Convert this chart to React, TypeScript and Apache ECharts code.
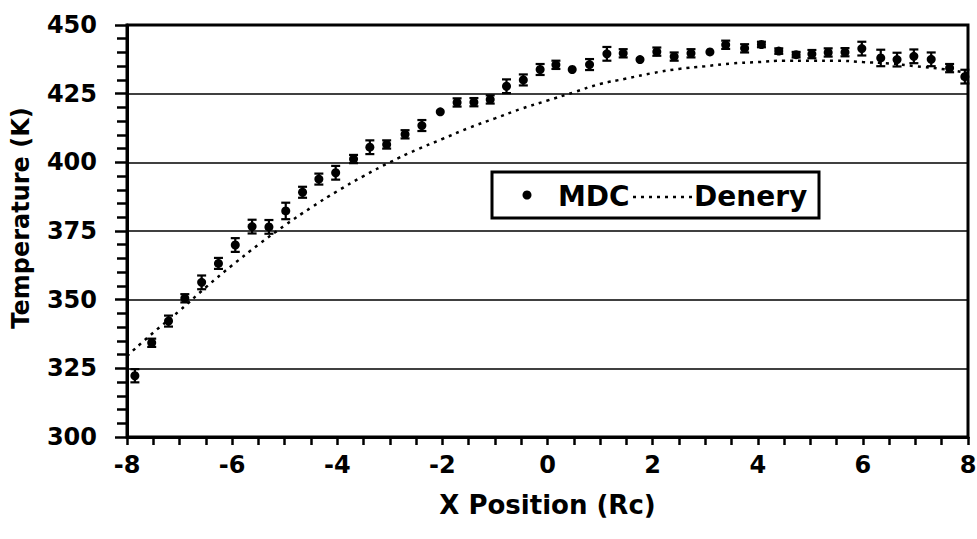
import React, { useEffect, useRef } from "react";
import * as echarts from "echarts";

// MDC measured temperatures (K) vs X position (Rc)
const mdcX = [-7.85, -7.53, -7.21, -6.9, -6.58, -6.26, -5.94, -5.62, -5.3, -4.98, -4.66, -4.35, -4.03, -3.69, -3.38, -3.06, -2.71, -2.39, -2.04, -1.72, -1.4, -1.09, -0.78, -0.46, -0.14, 0.16, 0.47, 0.8, 1.13, 1.44, 1.76, 2.08, 2.41, 2.73, 3.09, 3.39, 3.75, 4.07, 4.4, 4.73, 5.03, 5.34, 5.66, 5.98, 6.34, 6.65, 6.97, 7.3, 7.65, 7.94];
const mdcT = [322.3, 334.3, 342.2, 350.5, 356.3, 363.2, 369.9, 376.6, 376.5, 382.3, 389.1, 393.9, 396.2, 401.2, 405.5, 406.5, 410.2, 413.4, 418.4, 421.8, 421.9, 422.9, 427.7, 430, 433.8, 435.5, 433.8, 435.6, 439.5, 439.7, 437.4, 440.3, 438.5, 439.7, 440.2, 442.8, 441.5, 442.9, 440.5, 439.2, 439.4, 440, 440.1, 441.4, 438, 437.4, 438.6, 437.5, 434.3, 431.2];
const mdcErr = [2.4, 1.5, 2, 1.5, 2.5, 2, 2.5, 2.5, 2.5, 3, 2, 2, 2.5, 1.5, 2.5, 1.5, 1.5, 2, 0, 1.5, 1.5, 1.5, 2.5, 2, 2, 1.5, 0, 2, 2.5, 1.5, 0, 1.5, 1.5, 1.5, 0, 1.5, 1.5, 1, 1, 1, 1.5, 1.5, 1.5, 2.5, 3, 2.5, 2.5, 2.5, 1.5, 2.5];

// Denery reference curve
const deneryX = [-8, -7.5, -7, -6.5, -6, -5.5, -5, -4.5, -4, -3.5, -3, -2.5, -2, -1.5, -1, -0.5, 0, 0.5, 1, 1.5, 2, 2.5, 3, 3.5, 4, 4.5, 5, 5.5, 6, 6.5, 7, 7.5, 8];
const deneryT = [329.5, 338, 346, 354.5, 362.5, 370, 377, 383.5, 389.5, 395, 400, 404.5, 408.5, 412.5, 416, 419.5, 422.5, 425.5, 428.5, 430.5, 432.5, 434, 435, 436, 436.5, 437, 437, 437, 436.5, 436, 435, 434, 432.5];

const yTicks = [300, 325, 350, 375, 400, 425, 450];
const xTicks = [-8, -6, -4, -2, 0, 2, 4, 6, 8];
const legendNames = ["MDC", "Denery"];

const FONT = "DejaVu Sans";

export default function App() {
  const ref = useRef<HTMLDivElement>(null);
  useEffect(() => {
    document.body.style.margin = "0";
    const chart = echarts.init(ref.current!, null, { renderer: "svg" });
    const errData = mdcX.map((x, i) => [x, mdcT[i], mdcErr[i]]);
    const legendFont = `bold 28px "${FONT}"`;
    chart.setOption({
      animation: false,
      backgroundColor: "#fff",
      grid: {
        left: 127,
        right: 9,
        top: 25,
        bottom: 102,
        containLabel: false,
        outerBoundsMode: "none",
        show: true,
        borderColor: "#000",
        borderWidth: 3,
        backgroundColor: "transparent",
      },
      graphic: [
        {
          type: "group",
          z: 100,
          children: [
            { type: "rect", shape: { x: 492, y: 172, width: 327, height: 46 }, style: { fill: "#fff", stroke: "#000", lineWidth: 3 } },
            { type: "circle", shape: { cx: 527, cy: 195, r: 4.5 }, style: { fill: "#000" } },
            { type: "text", x: 558, y: 196, style: { text: legendNames[0], font: legendFont, fill: "#000", verticalAlign: "middle" } },
            { type: "line", shape: { x1: 633, y1: 197, x2: 692, y2: 197 }, style: { stroke: "#000", lineWidth: 2.5, lineDash: [3, 5] } },
            { type: "text", x: 694, y: 196, style: { text: legendNames[1], font: legendFont, fill: "#000", verticalAlign: "middle" } },
          ],
        },
      ],
      xAxis: {
        type: "value",
        min: xTicks[0],
        max: xTicks[xTicks.length - 1],
        interval: 2,
        name: "X Position (Rc)",
        nameLocation: "middle",
        nameGap: 55,
        nameTextStyle: { fontFamily: FONT, fontWeight: "bold", fontSize: 26, color: "#000" },
        axisLine: { onZero: false, lineStyle: { color: "#000", width: 3 } },
        axisTick: { show: true, length: 8, lineStyle: { color: "#000", width: 2.5 } },
        minorTick: { show: true, splitNumber: 4, length: 8, lineStyle: { color: "#000", width: 2.5 } },
        splitLine: { show: false },
        axisLabel: { margin: 16, fontFamily: FONT, fontWeight: "bold", fontSize: 24, color: "#000" },
      },
      yAxis: {
        type: "value",
        min: yTicks[0],
        max: yTicks[yTicks.length - 1],
        interval: 25,
        name: "Temperature (K)",
        nameLocation: "middle",
        nameGap: 94,
        nameTextStyle: { fontFamily: FONT, fontWeight: "bold", fontSize: 24, color: "#000", padding: [0, 0, 0, 26] },
        axisLine: { onZero: false, lineStyle: { color: "#000", width: 3 } },
        axisTick: { show: true, length: 12, lineStyle: { color: "#000", width: 2.5 } },
        minorTick: { show: true, splitNumber: 5, length: 10, lineStyle: { color: "#000", width: 2.5 } },
        splitLine: { show: true, lineStyle: { color: "#000", width: 1.5 } },
        axisLabel: { margin: 30, fontFamily: FONT, fontWeight: "bold", fontSize: 24, color: "#000" },
      },
      series: [
        {
          name: "Denery",
          type: "line",
          data: deneryX.map((x, i) => [x, deneryT[i]]),
          smooth: true,
          symbol: "none",
          lineStyle: { color: "#000", width: 2.5, type: [3, 5] },
          itemStyle: { color: "#000" },
          z: 2,
        },
        {
          name: "MDCerr",
          type: "custom",
          data: errData,
          encode: { x: 0, y: 1 },
          z: 3,
          renderItem: (params: any, api: any) => {
            const x = api.value(0);
            const y = api.value(1);
            const e = api.value(2);
            if (!e) return null;
            const top = api.coord([x, y + e]);
            const bot = api.coord([x, y - e]);
            const hw = 4.5;
            const st = { stroke: "#000", lineWidth: 2.2 };
            return {
              type: "group",
              children: [
                { type: "line", shape: { x1: top[0], y1: top[1], x2: bot[0], y2: bot[1] }, style: st },
                { type: "line", shape: { x1: top[0] - hw, y1: top[1], x2: top[0] + hw, y2: top[1] }, style: st },
                { type: "line", shape: { x1: bot[0] - hw, y1: bot[1], x2: bot[0] + hw, y2: bot[1] }, style: st },
              ],
            };
          },
        },
        {
          name: "MDC",
          type: "scatter",
          data: mdcX.map((x, i) => [x, mdcT[i]]),
          symbol: "circle",
          symbolSize: 9,
          itemStyle: { color: "#000", opacity: 1 },
          z: 4,
        },
      ],
    });
    return () => chart.dispose();
  }, []);
  return <div ref={ref} style={{ width: 977, height: 539 }} />;
}
